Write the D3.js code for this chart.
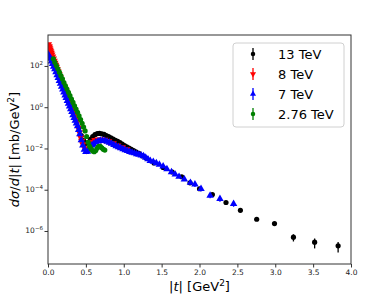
<!DOCTYPE html>
<html><head><meta charset="utf-8">
<script src="https://cdn.jsdelivr.net/npm/d3@7"></script>
<style>body{margin:0;background:#fff}svg{display:block}</style>
</head><body>
<svg id="c" width="390" height="297"></svg>
<script>
// ---- data (|t| in GeV^2, dσ/d|t| in mb/GeV^2) ----
const seriesNames = ["13 TeV", "8 TeV", "7 TeV", "2.76 TeV"];

const t13 = [0.02,0.05,0.08,0.11,0.14,0.17,0.20,0.23,0.26,0.29,0.32,0.35,0.38,0.41,0.44,0.47,0.50,0.53,0.56,0.59,0.62,0.65,0.68,0.71,0.74,0.77,0.80,0.83,0.86,0.89,0.92,0.95,0.98,1.01,1.04,1.07,1.10,1.13,1.16,1.20,1.25,1.30,1.40,1.52,1.64,1.765,1.875,2.0,2.17,2.35,2.54,2.755,2.99,3.24,3.52,3.83];
const y13 = [562,282,158,89.1,47.9,26.3,14.1,7.59,3.98,2.14,1.12,0.562,0.251,0.1,0.0417,0.024,0.0178,0.0191,0.0275,0.038,0.0468,0.0525,0.0537,0.0513,0.0479,0.0427,0.038,0.0331,0.0288,0.0251,0.0219,0.0191,0.0162,0.0138,0.012,0.0105,0.00912,0.00794,0.00692,0.00575,0.00437,0.00331,0.002,0.0012,7.24e-4,4.27e-4,2.16e-4,1.12e-4,5.89e-5,2.4e-5,1.0e-5,3.72e-6,2.29e-6,5.0e-7,2.88e-7,1.91e-7];
const e13 = [0,0,0,0,0,0,0,0,0,0,0,0,0,0,0,0,0,0,0,0,0,0,0,0,0,0,0,0,0,0,0,0,0,0,0,0,0,0,0,0,0,0,0,0,0,0,0,0,0,0,0,0,3e-7,1.9e-7,1.45e-7,1.0e-7];

const t8 = [0.005,0.012,0.015,0.022,0.028,0.035,0.042,0.05,0.06,0.07,0.08,0.09,0.10,0.11,0.12,0.13,0.145,0.16,0.175,0.19,0.205,0.22,0.235,0.25,0.265,0.28,0.295,0.31,0.325,0.34,0.355,0.37,0.385,0.40,0.415,0.43,0.445,0.46,0.49,0.51,0.53,0.56,0.59,0.62,0.66,0.70,0.75,0.80,0.86,0.92,0.98,1.04];
const y8 = [1122,891,832,708,603,501,427,355,282,224,178,141,112,89.1,70.8,55.0,39.8,28.2,20.4,14.8,10.7,7.94,5.75,4.17,3.02,2.24,1.58,1.15,0.794,0.562,0.398,0.282,0.178,0.1,0.0603,0.0355,0.0234,0.0158,0.00955,0.00832,0.01,0.0151,0.0209,0.0251,0.0269,0.0269,0.0257,0.0219,0.0178,0.0138,0.0112,0.00912];

const t7 = [0.005,0.015,0.03,0.045,0.06,0.075,0.09,0.105,0.12,0.135,0.15,0.165,0.18,0.195,0.21,0.225,0.24,0.255,0.27,0.285,0.30,0.315,0.33,0.345,0.36,0.375,0.39,0.405,0.42,0.44,0.46,0.48,0.50,0.52,0.54,0.56,0.58,0.60,0.63,0.66,0.69,0.72,0.75,0.78,0.81,0.84,0.87,0.90,0.93,0.96,0.99,1.02,1.05,1.08,1.11,1.14,1.17,1.20,1.23,1.26,1.29,1.32,1.35,1.39,1.43,1.47,1.52,1.57,1.63,1.68,1.73,1.80,1.88,1.94,2.02,2.14,2.27,2.45];
const y7 = [355,295,224,166,126,93.3,70.8,50.1,35.5,26.3,19.1,13.8,10,7.24,5.25,3.8,2.82,2.04,1.51,1.1,0.813,0.589,0.417,0.309,0.224,0.166,0.12,0.0794,0.0501,0.0251,0.0141,0.00891,0.00692,0.00708,0.00891,0.0112,0.0141,0.0166,0.02,0.0224,0.024,0.024,0.0234,0.0214,0.0191,0.017,0.0148,0.0132,0.0117,0.0105,0.00933,0.00832,0.00759,0.00692,0.00631,0.00589,0.00537,0.00501,0.00468,0.00427,0.00363,0.00302,0.00251,0.00229,0.00195,0.00166,0.00135,0.001,7.24e-4,5.5e-4,4.27e-4,3.16e-4,2.19e-4,1.82e-4,1.1e-4,5.25e-5,3.63e-5,2.09e-5];
const e7 = [0,0,0,0,0,0,0,0,0,0,0,0,0,0,0,0,0,0,0,0,0,0,0,0,0,0,0,0,0,0,0,0,0,0,0,0,0,0,0,0,0,0,0,0,0,0,0,0,0,0,0,0,0,0,0,0,0,0,0,0,0,0,0,0,0,0,2e-4,1.5e-4,1.1e-4,8e-5,6e-5,5e-5,4e-5,4.5e-5,2.8e-5,1.4e-5,1.0e-5,6e-6];

const t276 = [0.07,0.09,0.11,0.13,0.15,0.17,0.19,0.21,0.23,0.25,0.27,0.29,0.31,0.33,0.35,0.37,0.39,0.41,0.43,0.45,0.47,0.49,0.51,0.53,0.55,0.57,0.59,0.61,0.63,0.65,0.67,0.69,0.71,0.73,0.75];
const y276 = [224,151,105,72.4,50.1,33.9,23.4,15.8,11.0,7.59,5.25,3.63,2.51,1.7,1.17,0.813,0.562,0.38,0.251,0.166,0.11,0.0708,0.038,0.02,0.0126,0.00955,0.00759,0.00692,0.00794,0.0105,0.0126,0.0126,0.0107,0.00912,0.00832];

const xTicks = [0.0,0.5,1.0,1.5,2.0,2.5,3.0,3.5,4.0];
const yTickExps = [-6,-4,-2,0,2];

// ---- layout ----
const svg = d3.select("#c");
const L = 48, R = 351, T = 35, B = 264;
const x = d3.scaleLinear().domain([0,4]).range([L,R]);
const y = d3.scaleLog().domain([Math.pow(10,-7.6), Math.pow(10,3.5)]).range([B,T]);
const font = "DejaVu Sans, sans-serif";

svg.append("defs").append("clipPath").attr("id","clp")
  .append("rect").attr("x",L).attr("y",T).attr("width",R-L).attr("height",B-T);

const series = [
  {name:seriesNames[0], t:t13, v:y13, e:e13, color:"#000000", shape:"circle"},
  {name:seriesNames[1], t:t8, v:y8, e:null, color:"#ff0000", shape:"down"},
  {name:seriesNames[2], t:t7, v:y7, e:e7, color:"#0000ff", shape:"up"},
  {name:seriesNames[3], t:t276, v:y276, e:null, color:"#008000", shape:"circle"}
];

const symMap = {
  circle: d3.symbol().type(d3.symbolCircle).size(21),
  up: d3.symbol().type(d3.symbolTriangle).size(24),
  down: d3.symbol().type(d3.symbolTriangle).size(24)
};

const plot = svg.append("g").attr("clip-path","url(#clp)");
series.forEach(s => {
  const g = plot.append("g");
  const pts = s.t.map((t,i)=>({t, v:s.v[i], e: s.e ? s.e[i] : 0}));
  g.selectAll("line.err").data(pts.filter(p=>p.e>0)).join("line")
    .attr("x1",p=>x(p.t)).attr("x2",p=>x(p.t))
    .attr("y1",p=>y(p.v+p.e)).attr("y2",p=>y(Math.max(p.v-p.e, 1e-9)))
    .attr("stroke",s.color).attr("stroke-width",1.3);
  g.selectAll("path.m").data(pts).join("path")
    .attr("d", symMap[s.shape])
    .attr("transform", p => `translate(${x(p.t)},${y(p.v)})` + (s.shape==="down" ? " rotate(180)" : ""))
    .attr("fill", s.color);
});

// frame
svg.append("rect").attr("x",L).attr("y",T).attr("width",R-L).attr("height",B-T)
  .attr("fill","none").attr("stroke","#333").attr("stroke-width",1);

// x axis
const xa = svg.append("g").attr("transform",`translate(0,${B})`)
  .call(d3.axisBottom(x).tickValues(xTicks).tickFormat(d3.format(".1f")).tickSize(3.5).tickPadding(2));
xa.select(".domain").remove();
xa.selectAll("line").attr("stroke","#333");
xa.selectAll("text").attr("font-family",font).attr("font-size","7.5px").attr("fill","#222");

// y axis
const ya = svg.append("g").attr("transform",`translate(${L},0)`)
  .call(d3.axisLeft(y).tickValues(yTickExps.map(e=>Math.pow(10,e))).tickFormat("").tickSize(3.5));
ya.select(".domain").remove();
ya.selectAll("line").attr("stroke","#333");
yTickExps.forEach(e => {
  const tx = svg.append("text").attr("x", L-5).attr("y", y(Math.pow(10,e))+2.5)
    .attr("text-anchor","end").attr("font-family",font).attr("font-size","7.5px").attr("fill","#222");
  tx.append("tspan").text("10");
  tx.append("tspan").attr("dy",-3).attr("font-size","5.5px").text(e<0 ? "\u2212"+(-e) : String(e));
});

// axis labels
const xl = svg.append("text").attr("x",(L+R)/2).attr("y",291).attr("text-anchor","middle")
  .attr("font-family",font).attr("font-size","13px").attr("fill","#000");
xl.append("tspan").text("|");
xl.append("tspan").attr("font-style","italic").text("t");
xl.append("tspan").text("| [GeV");
xl.append("tspan").attr("dy",-5).attr("font-size","9px").text("2");
xl.append("tspan").attr("dy",5).text("]");

const yl = svg.append("text").attr("transform",`translate(19,${(T+B)/2}) rotate(-90)`).attr("text-anchor","middle")
  .attr("font-family",font).attr("font-size","13px").attr("fill","#000");
yl.append("tspan").attr("font-style","italic").text("d\u03c3");
yl.append("tspan").text("/");
yl.append("tspan").attr("font-style","italic").text("d");
yl.append("tspan").text("|");
yl.append("tspan").attr("font-style","italic").text("t");
yl.append("tspan").text("| [mb/GeV");
yl.append("tspan").attr("dy",-5).attr("font-size","9px").text("2");
yl.append("tspan").attr("dy",5).text("]");

// legend
const lg = svg.append("g");
lg.append("rect").attr("x",233).attr("y",43).attr("width",111).attr("height",84).attr("rx",3)
  .attr("fill","#fff").attr("fill-opacity",0.8).attr("stroke","#d0d0d0").attr("stroke-width",1);
series.forEach((s,i) => {
  const cy = 54 + i*20;
  lg.append("line").attr("x1",253).attr("x2",253).attr("y1",cy-6).attr("y2",cy+6)
    .attr("stroke",s.color).attr("stroke-width",1.3);
  lg.append("path").attr("d",d3.symbol().type(s.shape==="circle"?d3.symbolCircle:d3.symbolTriangle).size(16))
    .attr("transform",`translate(253,${cy})` + (s.shape==="down"?" rotate(180)":""))
    .attr("fill",s.color);
  lg.append("text").attr("x",278).attr("y",cy+4.5).attr("font-family",font).attr("font-size","13px")
    .attr("fill","#000").text(s.name);
});
</script>
</body></html>
